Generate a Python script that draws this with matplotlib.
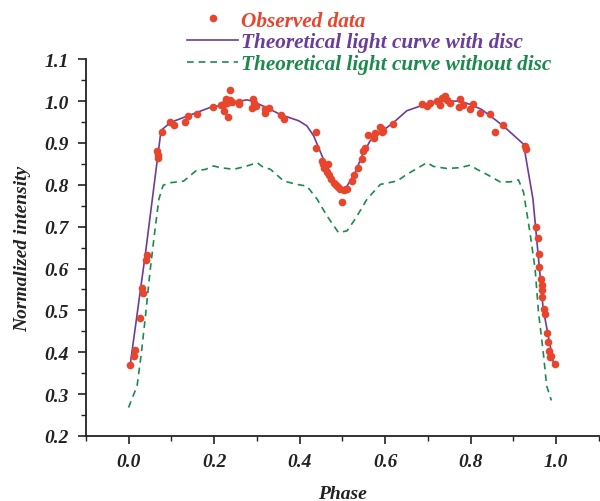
import numpy as np
import matplotlib
matplotlib.use("Agg")
import matplotlib.pyplot as plt
from matplotlib.ticker import MultipleLocator

# ------------------------------------------------------------------
# Data
# ------------------------------------------------------------------
obs_phase = [
    0.003, 0.012, 0.016, 0.026, 0.033, 0.032, 0.040, 0.042,
    0.067, 0.068, 0.068, 0.079, 0.098, 0.106, 0.132, 0.139, 0.161,
    0.198, 0.217, 0.223, 0.227, 0.231, 0.238, 0.238, 0.242, 0.233,
    0.224, 0.258, 0.258, 0.291, 0.293, 0.289, 0.299, 0.320, 0.328,
    0.320, 0.357, 0.363,
    0.439, 0.439, 0.453, 0.456, 0.466, 0.458, 0.464, 0.470, 0.474,
    0.480, 0.486, 0.491, 0.495, 0.503, 0.511, 0.499, 0.523, 0.527,
    0.536, 0.546, 0.548, 0.554, 0.561, 0.573, 0.577, 0.589, 0.595,
    0.593, 0.593, 0.618,
    0.686, 0.698, 0.706, 0.721, 0.729, 0.733, 0.741, 0.745, 0.752,
    0.776, 0.772, 0.783, 0.799, 0.805, 0.822, 0.846, 0.857, 0.875,
    0.928, 0.930,
    0.953, 0.957, 0.959, 0.961, 0.965, 0.967, 0.967, 0.968, 0.971,
    0.973, 0.979, 0.980, 0.983, 0.986, 0.989, 0.998,
]
obs_flux = [
    0.370, 0.392, 0.406, 0.482, 0.541, 0.553, 0.621, 0.633,
    0.881, 0.871, 0.863, 0.927, 0.949, 0.942, 0.950, 0.964, 0.969,
    0.985, 0.990, 0.976, 1.004, 0.995, 1.026, 1.003, 0.998, 0.961,
    0.992, 0.998, 0.992, 1.004, 0.996, 0.984, 0.988, 0.980, 0.984,
    0.971, 0.966, 0.957,
    0.925, 0.887, 0.857, 0.849, 0.849, 0.839, 0.831, 0.823, 0.813,
    0.805, 0.799, 0.794, 0.789, 0.788, 0.789, 0.759, 0.809, 0.823,
    0.841, 0.861, 0.881, 0.887, 0.918, 0.913, 0.923, 0.937, 0.929,
    0.933, 0.925, 0.946,
    0.992, 0.988, 0.996, 1.000, 0.990, 1.008, 1.012, 1.003, 0.996,
    1.004, 0.987, 0.990, 0.982, 0.992, 0.971, 0.969, 0.926, 0.942,
    0.893, 0.885,
    0.700, 0.672, 0.634, 0.603, 0.575, 0.560, 0.549, 0.533, 0.503,
    0.491, 0.447, 0.424, 0.404, 0.388, 0.392, 0.372,
]

disc_phase = [
    0.003, 0.040, 0.076, 0.098, 0.137, 0.199, 0.223, 0.238, 0.277,
    0.289, 0.324, 0.355, 0.375, 0.398, 0.417, 0.433, 0.456, 0.480,
    0.495, 0.511, 0.530, 0.546, 0.565, 0.589, 0.620, 0.651, 0.682,
    0.698, 0.717, 0.741, 0.752, 0.776, 0.799, 0.826, 0.861, 0.885,
    0.924, 0.946, 0.970, 0.995,
]
disc_flux = [
    0.364, 0.640, 0.930, 0.949, 0.964, 0.988, 0.988, 0.996, 1.003,
    1.000, 0.984, 0.968, 0.961, 0.953, 0.941, 0.917, 0.861, 0.813,
    0.789, 0.797, 0.829, 0.869, 0.905, 0.925, 0.949, 0.977, 0.988,
    0.992, 1.000, 1.007, 1.000, 1.000, 0.992, 0.980, 0.953, 0.933,
    0.897, 0.766, 0.503, 0.368,
]

nodisc_phase = [
    0.000, 0.020, 0.030, 0.040, 0.050, 0.061, 0.071, 0.081, 0.098,
    0.129, 0.157, 0.180, 0.199, 0.215, 0.246, 0.277, 0.301, 0.312,
    0.332, 0.363, 0.394, 0.417, 0.441, 0.464, 0.491, 0.511, 0.530,
    0.558, 0.589, 0.628, 0.651, 0.678, 0.698, 0.713, 0.745, 0.776,
    0.799, 0.815, 0.838, 0.869, 0.893, 0.912, 0.924, 0.939, 0.951,
    0.959, 0.970, 0.978, 0.989,
]
nodisc_flux = [
    0.268, 0.320, 0.398, 0.491, 0.591, 0.686, 0.766, 0.799, 0.805,
    0.809, 0.833, 0.837, 0.845, 0.841, 0.837, 0.845, 0.853, 0.844,
    0.837, 0.809, 0.801, 0.797, 0.766, 0.726, 0.686, 0.690, 0.718,
    0.766, 0.801, 0.809, 0.825, 0.841, 0.853, 0.844, 0.839, 0.841,
    0.847, 0.837, 0.825, 0.807, 0.807, 0.812, 0.782, 0.686, 0.599,
    0.495, 0.400, 0.320, 0.285,
]

RED = "#e8452c"
PURPLE = "#6a3d9a"
GREEN = "#1b8a4c"

plt.rcParams["font.family"] = ["Liberation Serif", "DejaVu Serif"]
plt.rcParams["font.weight"] = "bold"
plt.rcParams["font.style"] = "italic"

fig = plt.figure(figsize=(6.0, 5.02), dpi=100)
ax = fig.add_axes([0.143, 0.1295, 0.855, 0.7505])

ax.plot(nodisc_phase, nodisc_flux, color=GREEN, lw=1.2, ls=(0, (4, 3)),
        label="Theoretical light curve without disc", zorder=2)
ax.plot(disc_phase, disc_flux, color=PURPLE, lw=1.2,
        label="Theoretical light curve with disc", zorder=3)
ax.plot(obs_phase, obs_flux, "o", color=RED, ms=5.5, mec="none",
        label="Observed data", zorder=4)

ax.set_xlim(-0.1, 1.1)
ax.set_ylim(0.2, 1.1)
ax.xaxis.set_major_locator(MultipleLocator(0.2))
ax.xaxis.set_minor_locator(MultipleLocator(0.1))
ax.yaxis.set_major_locator(MultipleLocator(0.1))
ax.yaxis.set_minor_locator(MultipleLocator(0.05))
ax.set_xticks([0.0, 0.2, 0.4, 0.6, 0.8, 1.0])

for s in ["top", "right"]:
    ax.spines[s].set_visible(False)
for s in ["left", "bottom"]:
    ax.spines[s].set_linewidth(1.3)
    ax.spines[s].set_color("#222222")

ax.tick_params(which="major", direction="out", length=6, width=1.2,
               labelsize=14, colors="#222222", pad=6)
ax.tick_params(which="minor", direction="out", length=3.5, width=1.0,
               colors="#222222")
for lab in ax.get_xticklabels() + ax.get_yticklabels():
    lab.set_fontweight("bold")
    lab.set_fontstyle("italic")

ax.set_xlabel("Phase", fontsize=14, fontweight="bold", fontstyle="italic",
              color="#222222", labelpad=11)
ax.set_ylabel("Normalized intensity", fontsize=14, fontweight="bold",
              fontstyle="italic", color="#222222", labelpad=10)

handles, labels = ax.get_legend_handles_labels()
order = [2, 1, 0]
leg = fig.legend([handles[i] for i in order], [labels[i] for i in order],
                 loc="upper left", bbox_to_anchor=(0.28, 1.015),
                 frameon=False, handlelength=2.4,
                 handletextpad=0.15, labelspacing=0.08,
                 prop={"family": ["Liberation Serif"], "weight": "bold",
                       "style": "italic", "size": 15.3})
for txt, c in zip(leg.get_texts(), [RED, PURPLE, GREEN]):
    txt.set_color(c)

fig.savefig("out.png", dpi=100)
